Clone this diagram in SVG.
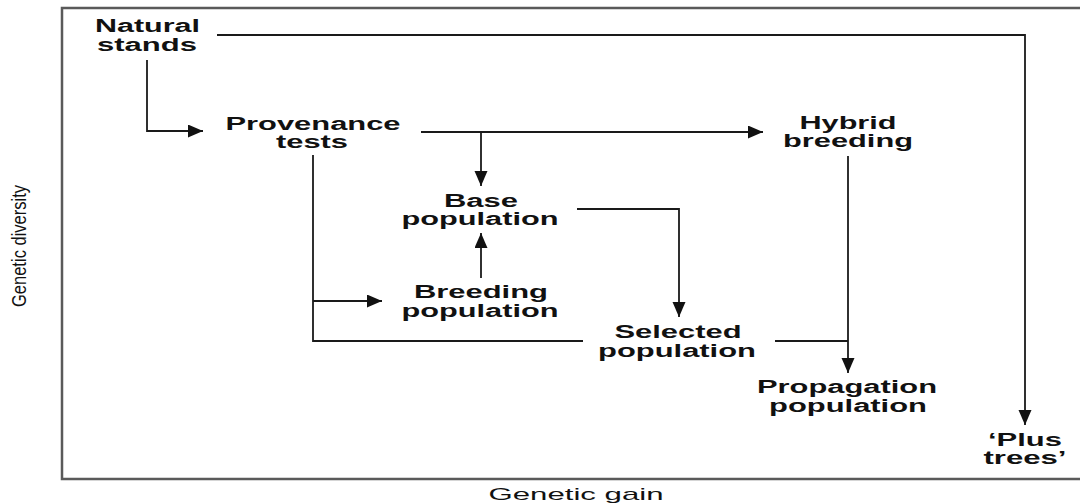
<svg xmlns="http://www.w3.org/2000/svg" width="1080" height="504" viewBox="0 0 1080 504">
  <defs>
    <marker id="arrow" markerUnits="userSpaceOnUse" markerWidth="16" markerHeight="14" refX="15" refY="6.5" orient="auto">
      <path d="M0,0 L15,6.5 L0,13 z" fill="#111"/>
    </marker>
    <style>
      .label { font-family: "Liberation Sans", Arial, sans-serif; font-weight: bold; font-size: 17.5px; fill: #111; text-anchor: middle; }
      .axis { font-family: "Liberation Sans", Arial, sans-serif; font-size: 17px; fill: #111; text-anchor: middle; }
      .axis-v { font-family: "Liberation Sans", Arial, sans-serif; font-size: 21px; fill: #111; text-anchor: middle; }
      .frame { fill: none; stroke: #5a5a5a; stroke-width: 2.5; }
      .link { fill: none; stroke: #1a1a1a; stroke-width: 1.8; }
      .arrowed { marker-end: url(#arrow); }
    </style>
  </defs>
  <rect width="1080" height="504" fill="#fff"/>

  <!-- plot frame: left and bottom axes plus top border -->
  <g id="frame">
    <path class="frame" d="M1080,8 L62,8 L62,479 L1080,479"/>
  </g>

  <!-- axis titles -->
  <g id="axis-titles">
    <text class="axis" x="576" y="500" textLength="175" lengthAdjust="spacingAndGlyphs">Genetic gain</text>
    <text class="axis-v" transform="translate(26,246) rotate(-90)" x="0" y="0" textLength="122" lengthAdjust="spacingAndGlyphs">Genetic diversity</text>
  </g>

  <!-- connectors -->
  <g id="connectors">
    <!-- natural stands to plus trees -->
    <path class="link arrowed" d="M217,35 L1025,35 L1025,425"/>
    <!-- natural stands to provenance tests -->
    <path class="link arrowed" d="M147,60 L147,131 L203,131"/>
    <!-- provenance tests to hybrid breeding -->
    <path class="link arrowed" d="M421,132 L763,132"/>
    <!-- provenance tests to base population -->
    <path class="link arrowed" d="M481,132 L481,186"/>
    <!-- provenance tests down to breeding and selected populations -->
    <path class="link" d="M313,155 L313,341 L583,341"/>
    <path class="link arrowed" d="M313,301 L382,301"/>
    <!-- breeding population to base population -->
    <path class="link arrowed" d="M481,278 L481,233"/>
    <!-- base population to selected population -->
    <path class="link arrowed" d="M577,209 L679,209 L679,317"/>
    <!-- hybrid breeding to propagation population -->
    <path class="link arrowed" d="M848,156 L848,373"/>
    <!-- selected population joins the propagation line -->
    <path class="link" d="M775,341 L848,341"/>
  </g>

  <!-- nodes -->
  <g id="natural-stands">
    <text class="label" x="147.5" y="32" textLength="105" lengthAdjust="spacingAndGlyphs">Natural</text>
    <text class="label" x="147" y="51" textLength="100" lengthAdjust="spacingAndGlyphs">stands</text>
  </g>
  <g id="provenance-tests">
    <text class="label" x="313" y="130" textLength="175" lengthAdjust="spacingAndGlyphs">Provenance</text>
    <text class="label" x="312" y="148" textLength="72" lengthAdjust="spacingAndGlyphs">tests</text>
  </g>
  <g id="hybrid-breeding">
    <text class="label" x="848" y="129" textLength="97" lengthAdjust="spacingAndGlyphs">Hybrid</text>
    <text class="label" x="848" y="147" textLength="130" lengthAdjust="spacingAndGlyphs">breeding</text>
  </g>
  <g id="base-population">
    <text class="label" x="481" y="207" textLength="74" lengthAdjust="spacingAndGlyphs">Base</text>
    <text class="label" x="480" y="225" textLength="157" lengthAdjust="spacingAndGlyphs">population</text>
  </g>
  <g id="breeding-population">
    <text class="label" x="481" y="298" textLength="134" lengthAdjust="spacingAndGlyphs">Breeding</text>
    <text class="label" x="480" y="317" textLength="157" lengthAdjust="spacingAndGlyphs">population</text>
  </g>
  <g id="selected-population">
    <text class="label" x="678" y="338" textLength="127" lengthAdjust="spacingAndGlyphs">Selected</text>
    <text class="label" x="677" y="357" textLength="158" lengthAdjust="spacingAndGlyphs">population</text>
  </g>
  <g id="propagation-population">
    <text class="label" x="847" y="393" textLength="180" lengthAdjust="spacingAndGlyphs">Propagation</text>
    <text class="label" x="848" y="412" textLength="158" lengthAdjust="spacingAndGlyphs">population</text>
  </g>
  <g id="plus-trees">
    <text class="label" x="1025" y="446" textLength="74" lengthAdjust="spacingAndGlyphs">‘Plus</text>
    <text class="label" x="1025" y="464" textLength="83" lengthAdjust="spacingAndGlyphs">trees’</text>
  </g>
</svg>
